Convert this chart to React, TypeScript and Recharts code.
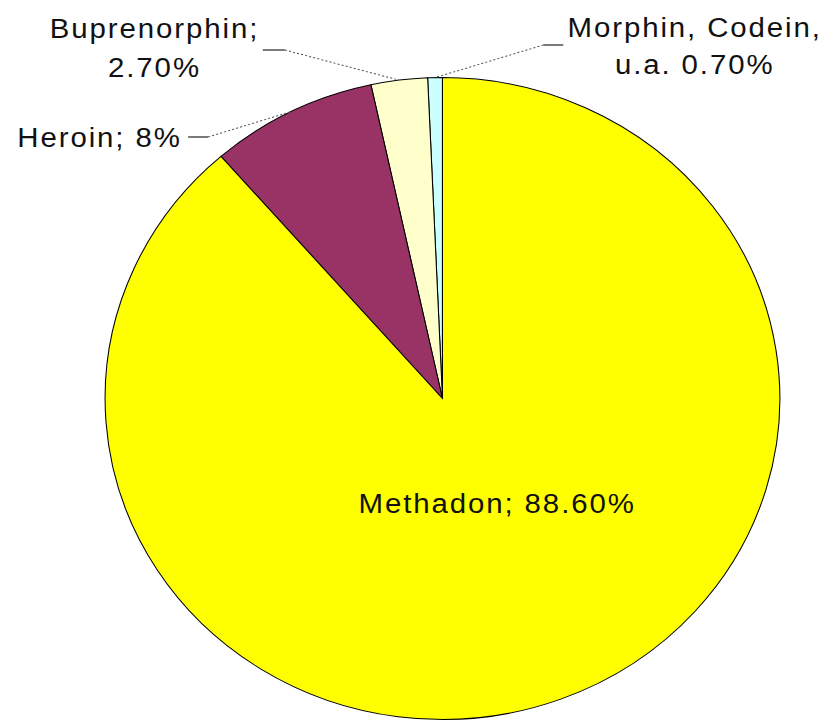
import React from 'react';
import { PieChart, Pie, Cell } from 'recharts';

// Shares of substitution substances, in percent (counter-clockwise from 12 o'clock)
const categories = ['Morphin, Codein, u.a.', 'Buprenorphin', 'Heroin', 'Methadon'];
const shares = [0.7, 2.7, 8, 88.6];
const sliceColors = ['#CCFFFF', '#FFFFCC', '#993366', '#FFFF00'];

const data = categories.map((name, i) => ({ name, value: shares[i] }));

// Chart geometry (drawn unscaled, then widened horizontally)
const CHART_W = 786;
const CHART_H = 722;
const STRETCH_X = 1.051;
const CX = 421;
const CY = 398.5;
const RADIUS = 321;

const FONT = '"Liberation Sans", Arial, Helvetica, sans-serif';
const FONT_SIZE = 28;
const LETTER_SPACING = 1.8;

// Label placement per category: text anchor point, wrapping and the leader tick
type Placement = {
  x: number;
  y: number;
  anchor: 'start' | 'middle' | 'end';
  wrapAfter: number; // words on the first line (0 = single line)
  lineGap: number;
  tick?: { x1: number; x2: number; y: number; joinX: number };
};

const placements: Record<string, Placement> = {
  'Morphin, Codein, u.a.': {
    x: 661,
    y: 37,
    anchor: 'middle',
    wrapAfter: 2,
    lineGap: 37,
    tick: { x1: 517, x2: 536, y: 45, joinX: 517 },
  },
  Buprenorphin: {
    x: 147,
    y: 38,
    anchor: 'middle',
    wrapAfter: 1,
    lineGap: 39,
    tick: { x1: 250, x2: 271, y: 50, joinX: 271 },
  },
  Heroin: {
    x: 173,
    y: 147,
    anchor: 'end',
    wrapAfter: 0,
    lineGap: 0,
    tick: { x1: 179, x2: 198, y: 137, joinX: 198 },
  },
  Methadon: {
    x: 473,
    y: 513,
    anchor: 'middle',
    wrapAfter: 0,
    lineGap: 0,
  },
};

const formatShare = (v: number) => (Number.isInteger(v) ? `${v}%` : `${v.toFixed(2)}%`);

const labelLines = (name: string, value: number, wrapAfter: number): string[] => {
  const sep = name.endsWith('.') ? ' ' : '; ';
  const full = `${name}${sep}${formatShare(value)}`;
  if (!wrapAfter) return [full];
  const words = full.split(' ');
  return [words.slice(0, wrapAfter).join(' '), words.slice(wrapAfter).join(' ')];
};

const RAD = Math.PI / 180;

const renderLabel = (props: any) => {
  const { cx, cy, midAngle, outerRadius, name, value, index } = props;
  const p = placements[name];
  if (!p) return null;
  const edgeX = cx + outerRadius * Math.cos(-midAngle * RAD);
  const edgeY = cy + outerRadius * Math.sin(-midAngle * RAD);
  const lines = labelLines(name, value, p.wrapAfter);
  return (
    <g key={`label-${index}`}>
      {p.tick && (
        <>
          <line
            x1={p.tick.joinX}
            y1={p.tick.y}
            x2={edgeX}
            y2={edgeY}
            stroke="#555"
            strokeWidth={1}
            strokeDasharray="2 2"
          />
          <line x1={p.tick.x1} y1={p.tick.y} x2={p.tick.x2} y2={p.tick.y} stroke="#222" strokeWidth={1.2} />
        </>
      )}
      <text
        x={p.x}
        y={p.y}
        textAnchor={p.anchor}
        fill="#111"
        fontFamily={FONT}
        fontSize={FONT_SIZE}
        letterSpacing={LETTER_SPACING}
      >
        {lines.map((ln, i) => (
          <tspan key={i} x={p.x} dy={i === 0 ? 0 : p.lineGap}>
            {ln}
          </tspan>
        ))}
      </text>
    </g>
  );
};

export default function App() {
  return (
    <div
      style={{
        position: 'absolute',
        left: 0,
        top: 0,
        width: 826,
        height: 722,
        overflow: 'hidden',
        background: '#ffffff',
      }}
    >
      <div
        style={{
          width: CHART_W,
          height: CHART_H,
          transform: `scaleX(${STRETCH_X})`,
          transformOrigin: '0 0',
        }}
      >
        <PieChart width={CHART_W} height={CHART_H} margin={{ top: 0, right: 0, bottom: 0, left: 0 }}>
          <Pie
            data={data}
            dataKey="value"
            nameKey="name"
            cx={CX}
            cy={CY}
            outerRadius={RADIUS}
            startAngle={90}
            endAngle={450}
            stroke="#000"
            strokeWidth={1}
            label={renderLabel}
            labelLine={false}
            isAnimationActive={false}
          >
            {data.map((d, i) => (
              <Cell key={d.name} fill={sliceColors[i]} />
            ))}
          </Pie>
        </PieChart>
      </div>
    </div>
  );
}
